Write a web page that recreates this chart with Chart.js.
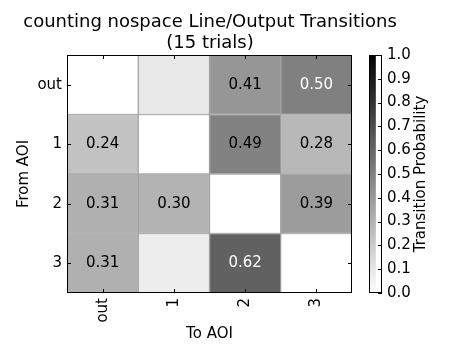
<!DOCTYPE html>
<html>
<head>
<meta charset="utf-8">
<script src="https://cdn.jsdelivr.net/npm/chart.js@4/dist/chart.umd.min.js"></script>
<style>
  html, body { margin: 0; padding: 0; background: #fff; }
  #wrap { position: relative; width: 450px; height: 360px; }
  #main { position: absolute; left: 0; top: 0; }
  #cbar { position: absolute; left: 369px; top: 0; }
</style>
</head>
<body>
<div id="wrap">
  <canvas id="main" width="450" height="360"></canvas>
  <canvas id="cbar" width="81" height="360"></canvas>
</div>
<script>
// ---- data ----
const titleLines = ['counting nospace Line/Output Transitions', '(15 trials)'];
const toLabels = ['out', '1', '2', '3'];
const fromLabels = ['out', '1', '2', '3'];
const rowOut = [0.00, 0.09, 0.41, 0.50];
const row1   = [0.24, 0.00, 0.49, 0.28];
const row2   = [0.31, 0.30, 0.00, 0.39];
const row3   = [0.31, 0.07, 0.62, 0.00];
const rows = [rowOut, row1, row2, row3];
const xTitle = 'To AOI';
const yTitle = 'From AOI';
const cbarTitle = 'Transition Probability';
const cbarMin = 0, cbarMax = 1, cbarStep = 0.1;
const labelMin = 0.1;   // values below this are not annotated
const whiteTextFrom = 0.5;

// ---- styling ----
Chart.defaults.font.family = "'DejaVu Sans', 'Liberation Sans', sans-serif";
Chart.defaults.font.size = 15;
Chart.defaults.color = '#000';

function grayOf(v) {
  const g = Math.round(255 * (1 - (v - cbarMin) / (cbarMax - cbarMin)));
  return `rgb(${g},${g},${g})`;
}

const datasets = rows.map((vals, r) => ({
  label: fromLabels[r],
  data: vals.map(() => [r, r + 1]),
  backgroundColor: vals.map(grayOf),
  borderColor: 'rgba(0,0,0,0.3)',
  borderWidth: 1,
  borderSkipped: false,
  grouped: false,
  barPercentage: 1,
  categoryPercentage: 1
}));

const frameAndTicks = {
  id: 'frameAndTicks',
  afterDatasetsDraw(chart) {
    const {ctx, chartArea: a, scales: {x, y}} = chart;
    ctx.save();
    // cell annotations
    ctx.font = "15px 'DejaVu Sans', sans-serif";
    ctx.textAlign = 'center';
    ctx.textBaseline = 'middle';
    rows.forEach((vals, r) => {
      vals.forEach((v, c) => {
        if (v < labelMin) return;
        ctx.fillStyle = v >= whiteTextFrom ? '#fff' : '#000';
        ctx.fillText(v.toFixed(2), x.getPixelForValue(c), y.getPixelForValue(r + 0.5));
      });
    });
    // frame
    ctx.strokeStyle = '#000';
    ctx.lineWidth = 1;
    ctx.strokeRect(Math.round(a.left) + 0.5, Math.round(a.top) + 0.5,
                   Math.round(a.right - a.left) - 1, Math.round(a.bottom - a.top) - 1);
    // inward tick marks
    const L = 4;
    ctx.beginPath();
    x.ticks.forEach((t, i) => {
      const px = Math.round(x.getPixelForTick(i)) + 0.5;
      ctx.moveTo(px, a.top); ctx.lineTo(px, a.top + L);
      ctx.moveTo(px, a.bottom); ctx.lineTo(px, a.bottom - L);
    });
    y.ticks.forEach((t, i) => {
      const py = Math.round(y.getPixelForTick(i)) + 0.5;
      ctx.moveTo(a.left, py); ctx.lineTo(a.left + L, py);
      ctx.moveTo(a.right, py); ctx.lineTo(a.right - L, py);
    });
    ctx.stroke();
    ctx.restore();
  }
};

new Chart(document.getElementById('main'), {
  type: 'bar',
  data: { labels: toLabels, datasets },
  options: {
    responsive: false,
    animation: false,
    events: [],
    layout: { padding: { left: 0, right: 30, top: 0, bottom: 0 } },
    plugins: {
      legend: { display: false },
      tooltip: { enabled: false },
      title: {
        display: true,
        text: titleLines,
        fullSize: true,
        color: '#000',
        font: { size: 18, weight: 'normal', lineHeight: '21px' },
        padding: { top: 12, bottom: 1 }
      }
    },
    scales: {
      x: {
        type: 'category',
        offset: true,
        grid: { display: false, drawTicks: false },
        border: { display: false },
        ticks: { minRotation: 90, maxRotation: 90, padding: 5, autoSkip: false },
        title: { display: true, text: xTitle, padding: { top: 0, bottom: 17 } },
        afterFit(s) { s.height = 67; }
      },
      y: {
        type: 'linear',
        reverse: true,
        min: 0,
        max: fromLabels.length,
        grid: { display: false, drawTicks: false },
        border: { display: false },
        afterBuildTicks(s) { s.ticks = fromLabels.map((_, i) => ({ value: i + 0.5 })); },
        ticks: { padding: 5, autoSkip: false, callback: (v) => fromLabels[Math.floor(v)] },
        title: { display: true, text: yTitle, padding: { top: 15, bottom: 0 } },
        afterFit(s) { s.width = 67; }
      },
      ySpace: {
        type: 'linear',
        position: 'right',
        min: 0,
        max: 1,
        grid: { display: false, drawTicks: false },
        border: { display: false },
        ticks: { display: false },
        afterFit(s) { s.width = 68; }
      }
    }
  },
  plugins: [frameAndTicks]
});

// ---- colorbar ----
const cbarDecor = {
  id: 'cbarDecor',
  afterDatasetsDraw(chart) {
    const {ctx, chartArea: a, scales: {y}} = chart;
    ctx.save();
    ctx.strokeStyle = '#000';
    ctx.lineWidth = 1;
    ctx.strokeRect(Math.round(a.left) + 0.5, Math.round(a.top) + 0.5,
                   Math.round(a.right - a.left) - 1, Math.round(a.bottom - a.top) - 1);
    ctx.beginPath();
    y.ticks.forEach((t, i) => {
      const py = Math.round(y.getPixelForTick(i)) + 0.5;
      ctx.moveTo(a.right, py); ctx.lineTo(a.right - 4, py);
    });
    ctx.stroke();
    // colorbar label, reading bottom to top
    ctx.translate(52, (a.top + a.bottom) / 2);
    ctx.rotate(-Math.PI / 2);
    ctx.font = "15px 'DejaVu Sans', sans-serif";
    ctx.fillStyle = '#000';
    ctx.textAlign = 'center';
    ctx.textBaseline = 'middle';
    ctx.fillText(cbarTitle, 0, 0);
    ctx.restore();
  }
};

new Chart(document.getElementById('cbar'), {
  type: 'bar',
  data: {
    labels: [''],
    datasets: [{
      data: [[cbarMin, cbarMax]],
      backgroundColor(c) {
        const a = c.chart.chartArea;
        if (!a) return '#888';
        const g = c.chart.ctx.createLinearGradient(0, a.bottom, 0, a.top);
        g.addColorStop(0, grayOf(cbarMin));
        g.addColorStop(1, grayOf(cbarMax));
        return g;
      },
      borderWidth: 0,
      barPercentage: 1,
      categoryPercentage: 1
    }]
  },
  options: {
    responsive: false,
    animation: false,
    events: [],
    layout: { padding: { left: 0, right: 0, top: 55, bottom: 67 } },
    plugins: { legend: { display: false }, tooltip: { enabled: false } },
    scales: {
      x: { display: false, offset: false },
      y: {
        position: 'right',
        min: cbarMin,
        max: cbarMax,
        grid: { display: false, drawTicks: false },
        border: { display: false },
        ticks: { stepSize: cbarStep, padding: 5, autoSkip: false, callback: (v) => v.toFixed(1) },
        afterFit(s) { s.width = 68; }
      }
    }
  },
  plugins: [cbarDecor]
});
</script>
</body>
</html>
